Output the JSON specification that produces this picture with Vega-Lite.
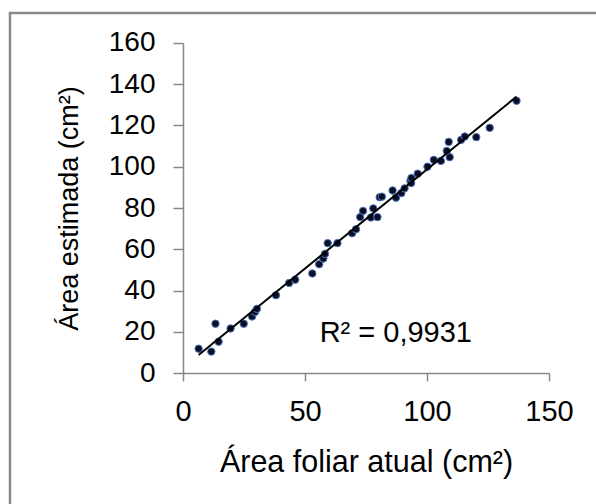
{
  "$schema": "https://vega.github.io/schema/vega-lite/v6.json",
  "autosize": {"type": "none"},
  "width": 600,
  "height": 500,
  "padding": {"left": 10, "top": 13, "right": 0, "bottom": 0},
  "background": "white",
  "config": {
    "view": {"stroke": "#8a8a8a", "strokeWidth": 2.5},
    "font": "Liberation Sans",
    "axis": {"grid": false, "domainColor": "#888888", "tickColor": "#888888", "domainWidth": 1.5, "tickWidth": 1.5, "labelColor": "#000000", "titleColor": "#000000", "titleFontWeight": "normal", "labelFont": "Liberation Sans", "titleFont": "Liberation Sans"}
  },
  "datasets": {
    "pts": [
      {"atual": 6.4, "estimada": 11.9},
      {"atual": 11.6, "estimada": 10.5},
      {"atual": 13.3, "estimada": 24.0},
      {"atual": 14.6, "estimada": 15.3},
      {"atual": 19.5, "estimada": 21.7},
      {"atual": 24.9, "estimada": 24.0},
      {"atual": 28.3, "estimada": 27.5},
      {"atual": 29.5, "estimada": 29.7},
      {"atual": 30.3, "estimada": 31.2},
      {"atual": 38.1, "estimada": 37.8},
      {"atual": 43.5, "estimada": 43.7},
      {"atual": 46.0, "estimada": 45.3},
      {"atual": 53.0, "estimada": 48.3},
      {"atual": 55.8, "estimada": 52.8},
      {"atual": 57.5, "estimada": 55.5},
      {"atual": 58.2, "estimada": 57.8},
      {"atual": 59.3, "estimada": 63.0},
      {"atual": 63.3, "estimada": 63.0},
      {"atual": 69.3, "estimada": 67.8},
      {"atual": 70.9, "estimada": 69.7},
      {"atual": 72.6, "estimada": 75.6},
      {"atual": 73.8, "estimada": 78.6},
      {"atual": 77.0, "estimada": 75.4},
      {"atual": 78.0, "estimada": 79.8},
      {"atual": 79.7, "estimada": 75.6},
      {"atual": 80.6, "estimada": 85.2},
      {"atual": 81.5, "estimada": 85.5},
      {"atual": 85.9, "estimada": 88.5},
      {"atual": 87.3, "estimada": 85.0},
      {"atual": 89.5, "estimada": 87.2},
      {"atual": 90.8, "estimada": 89.5},
      {"atual": 93.2, "estimada": 93.0},
      {"atual": 93.5, "estimada": 92.1},
      {"atual": 93.6, "estimada": 94.5},
      {"atual": 96.2, "estimada": 96.6},
      {"atual": 100.2, "estimada": 100.0},
      {"atual": 102.8, "estimada": 103.3},
      {"atual": 105.7, "estimada": 102.8},
      {"atual": 108.1, "estimada": 107.6},
      {"atual": 108.9, "estimada": 112.0},
      {"atual": 109.3, "estimada": 104.6},
      {"atual": 114.0, "estimada": 113.0},
      {"atual": 115.5, "estimada": 114.6},
      {"atual": 120.2, "estimada": 114.3},
      {"atual": 125.7, "estimada": 118.8},
      {"atual": 136.7, "estimada": 131.9}
    ],
    "label": [
      {"atual": 56.0, "estimada": 15.1, "texto": "R² = 0,9931"}
    ]
  },
  "layer": [
    {
      "data": {"name": "pts"},
      "mark": {"type": "circle", "size": 55, "color": "#0e0e24", "stroke": "#4677bd", "strokeWidth": 1, "opacity": 1},
      "encoding": {
        "x": {
          "field": "atual", "type": "quantitative",
          "scale": {"domain": [0, 150], "range": [173, 539], "nice": false, "zero": false},
          "axis": {"values": [0, 50, 100, 150], "offset": -140, "tickSize": 8, "labelFontSize": 29, "labelPadding": 16, "title": "Área foliar atual (cm²)", "titleFontSize": 30.5, "titlePadding": 21, "labelFlush": false}
        },
        "y": {
          "field": "estimada", "type": "quantitative",
          "scale": {"domain": [0, 160], "range": [360.3, 29.7], "nice": false, "zero": false},
          "axis": {"values": [0, 20, 40, 60, 80, 100, 120, 140, 160], "offset": -173, "tickSize": 10, "labelFontSize": 28, "labelPadding": 18, "title": "Área estimada (cm²)", "titleFontSize": 27, "titlePadding": 25, "labelFlush": false}
        }
      }
    },
    {
      "data": {"name": "pts"},
      "transform": [{"regression": "estimada", "on": "atual", "extent": [6.4, 136.7]}],
      "mark": {"type": "line", "color": "#000000", "strokeWidth": 2},
      "encoding": {
        "x": {"field": "atual", "type": "quantitative"},
        "y": {"field": "estimada", "type": "quantitative"}
      }
    },
    {
      "data": {"name": "label"},
      "mark": {"type": "text", "align": "left", "baseline": "alphabetic", "fontSize": 29, "color": "#000000", "font": "Liberation Sans"},
      "encoding": {
        "x": {"field": "atual", "type": "quantitative"},
        "y": {"field": "estimada", "type": "quantitative"},
        "text": {"field": "texto"}
      }
    }
  ]
}
